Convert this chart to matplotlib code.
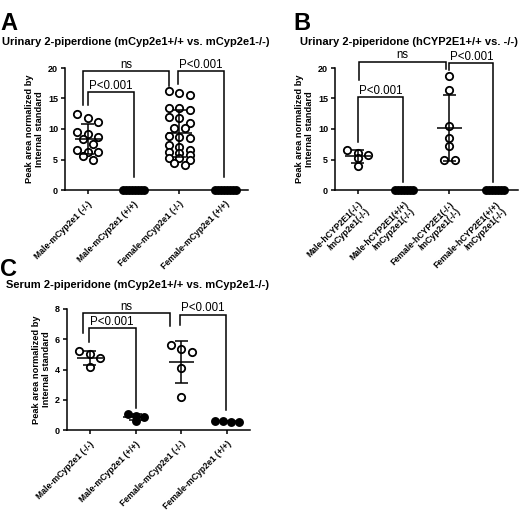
import numpy as np
import matplotlib
matplotlib.use('Agg')
import matplotlib.pyplot as plt

plt.rcParams['font.family'] = ['Liberation Sans', 'DejaVu Sans']

W, H, DPI = 525, 514, 100

# ── data ──────────────────────────────────────────────────────────────────────
a_labels = ['Male-mCyp2e1 (-/-)', 'Male-mCyp2e1 (+/+)',
            'Female-mCyp2e1 (-/-)', 'Female-mCyp2e1 (+/+)']
a_male_ko = [12.4, 11.8, 11.2, 9.5, 9.1, 8.7, 8.3, 7.6, 6.5, 6.3, 6.2, 5.5, 5.0]
a_male_wt = [0.05, 0.05, 0.05, 0.05, 0.05, 0.05, 0.05, 0.05]
a_female_ko = [16.3, 15.9, 15.6, 13.5, 13.4, 13.1, 11.9, 11.8, 11.0, 10.2, 10.1,
               8.8, 8.7, 8.5, 7.3, 7.0, 6.6, 6.3, 6.0, 5.7, 5.3, 5.2, 4.9, 4.4, 4.1]
a_female_wt = [0.05, 0.05, 0.05, 0.05, 0.05, 0.05, 0.05, 0.05]

b_labels = ['Male-hCYP2E1(-/-)\n/mCyp2e1(-/-)', 'Male-hCYP2E1(+/+)\n/mCyp2e1(-/-)',
            'Female-hCYP2E1(-/-)\n/mCyp2e1(-/-)', 'Female-hCYP2E1(+/+)\n/mCyp2e1(-/-)']
b_male_ko = [6.6, 6.1, 5.7, 5.3, 3.9]
b_male_tg = [0.05, 0.05, 0.05, 0.05, 0.05, 0.05, 0.05]
b_female_ko = [18.7, 16.4, 10.5, 8.5, 7.2, 5.0, 5.0]
b_female_tg = [0.05, 0.05, 0.05, 0.05, 0.05, 0.05, 0.05]

c_labels = a_labels
c_male_ko = [5.2, 5.0, 4.75, 4.15]
c_male_wt = [1.05, 0.9, 0.88, 0.62]
c_female_ko = [5.64, 5.19, 5.35, 4.09, 2.21]
c_female_wt = [0.58, 0.52, 0.55, 0.6]

filled = [False, True, False, True]

# bracket annotations: (group i, group j, text, top, left foot, right foot, dx left, dx right)
a_brackets = [(0, 1, 'P<0.001', 16.0, 14.0, 2.2, 0.0, 0.0),
              (0, 2, 'ns', 19.45, 14.0, 17.0, -0.11, -0.22),
              (2, 3, 'P<0.001', 19.45, 17.3, 2.2, -0.03, -0.03)]
b_brackets = [(0, 1, 'P<0.001', 15.2, 7.9, 1.3, 0.0, -0.02),
              (0, 2, 'ns', 21.0, 18.0, 19.8, 0.02, -0.07),
              (2, 3, 'P<0.001', 20.8, 19.7, 1.3, 0.0, -0.04)]
c_brackets = [(0, 1, 'P<0.001', 6.74, 5.79, 1.44, -0.03, 0.0),
              (0, 2, 'ns', 7.73, 6.4, 6.85, -0.14, -0.25),
              (2, 3, 'P<0.001', 7.62, 6.96, 1.33, -0.04, -0.02)]

LW = 1.1


def row_swarm(ypx, colgap, rowh, maxn):
    """GraphPad-like layout: close values share a row, spread symmetrically."""
    order = list(np.argsort(-ypx, kind='stable'))
    out = np.zeros(len(ypx))
    rows = []
    for k in order:
        if rows and len(rows[-1]) < maxn and ypx[rows[-1][0]] - ypx[k] < rowh:
            rows[-1].append(k)
        else:
            rows.append([k])
    for r in rows:
        n = len(r)
        for j, k in enumerate(r):
            out[k] = (j - (n - 1) / 2) * colgap
    return out


def add_ax(l, t, w, h):
    return fig.add_axes([l / W, 1 - (t + h) / H, w / W, h / H])


def panel(ax, groups, labels, ylim, yticks, brackets):
    ax.set_xlim(-0.5, 3.5)
    ax.set_ylim(*ylim)
    bb = ax.get_position()
    xpx = bb.width * W / 4.0
    ypx = bb.height * H / (ylim[1] - ylim[0])
    for i, (vals, fill) in enumerate(zip(groups, filled)):
        vals = np.asarray(vals, dtype=float)
        if fill and vals.std() < 0.01:
            off = row_swarm(vals * ypx, 3.0, 8.0, 10)
        elif fill:
            off = row_swarm(vals * ypx, 8.0, 6.0, 4)
        else:
            off = row_swarm(vals * ypx, 10.5, 7.5, 3)
        ax.scatter(i + off / xpx, vals, s=28 if not fill else 26,
                   facecolor='black' if fill else 'white', edgecolor='black',
                   linewidth=1.3, clip_on=False, zorder=3)
        m, sd = vals.mean(), vals.std(ddof=1)
        kw = dict(color='black', lw=LW, zorder=4, clip_on=False, solid_capstyle='butt')
        ax.plot([i - 0.28, i + 0.28], [m, m], **kw)
        ax.plot([i - 0.14, i + 0.14], [m + sd, m + sd], **kw)
        ax.plot([i - 0.14, i + 0.14], [m - sd, m - sd], **kw)
        ax.plot([i, i], [m - sd, m + sd], **kw)

    for (i, j, txt, top, lb, rb, dl, dr) in brackets:
        xl, xr = i + dl, j + dr
        ax.plot([xl, xl, xr, xr], [lb, top, top, rb], color='black', lw=LW,
                clip_on=False, zorder=2, solid_joinstyle='miter')
        ax.annotate(txt, ((xl + xr) / 2, top), xytext=(0, 0.3),
                    textcoords='offset points', ha='center', va='bottom',
                    fontsize=8.3, annotation_clip=False)

    for s in ['top', 'right']:
        ax.spines[s].set_visible(False)
    for s in ['left', 'bottom']:
        ax.spines[s].set_linewidth(LW)
    ax.set_yticks(yticks)
    ax.set_yticklabels([str(v) for v in yticks], fontsize=6.5, fontweight='bold')
    ax.set_xticks(range(4))
    ax.set_xticklabels(labels, rotation=45, ha='right', rotation_mode='anchor',
                       fontsize=6.2, fontweight='bold')
    ax.tick_params(axis='both', length=3, width=LW, pad=2)
    ax.tick_params(axis='x', pad=4)
    ax.set_ylabel('Peak area normalized by\nInternal standard', fontsize=6.7,
                  fontweight='bold', labelpad=3, linespacing=1.15)
    ax.set_facecolor('none')


fig = plt.figure(figsize=(W / DPI, H / DPI), dpi=DPI)
fig.patch.set_facecolor('white')

axA = add_ax(65, 68, 183, 122)
panel(axA, [a_male_ko, a_male_wt, a_female_ko, a_female_wt], a_labels,
      (0, 20), [0, 5, 10, 15, 20], a_brackets)

axB = add_ax(335, 68, 183, 122)
panel(axB, [b_male_ko, b_male_tg, b_female_ko, b_female_tg], b_labels,
      (0, 20), [0, 5, 10, 15, 20], b_brackets)

axC = add_ax(67, 309, 183, 121)
panel(axC, [c_male_ko, c_male_wt, c_female_ko, c_female_wt], c_labels,
      (0, 8), [0, 2, 4, 6, 8], c_brackets)

# ── titles and panel letters ─────────────────────────────────────────────────
tkw = dict(fontsize=8.0, fontweight='bold', ha='center', va='center')
fig.text(136 / W, 1 - 42 / H, 'Urinary 2-piperdione (mCyp2e1+/+ vs. mCyp2e1-/-)', **tkw)
fig.text(409 / W, 1 - 42 / H, 'Urinary 2-piperidone (hCYP2E1+/+ vs. -/-)', **tkw)
fig.text(137 / W, 1 - 285 / H, 'Serum 2-piperidone (mCyp2e1+/+ vs. mCyp2e1-/-)', **tkw)

lkw = dict(fontsize=17, fontweight='bold', ha='left', va='baseline')
fig.text(0 / W, 1 - 30 / H, 'A', **lkw)
fig.text(293 / W, 1 - 30 / H, 'B', **lkw)
fig.text(0 / W, 1 - 276 / H, 'C', **lkw)

fig.savefig('out.png', dpi=DPI, facecolor='white')
